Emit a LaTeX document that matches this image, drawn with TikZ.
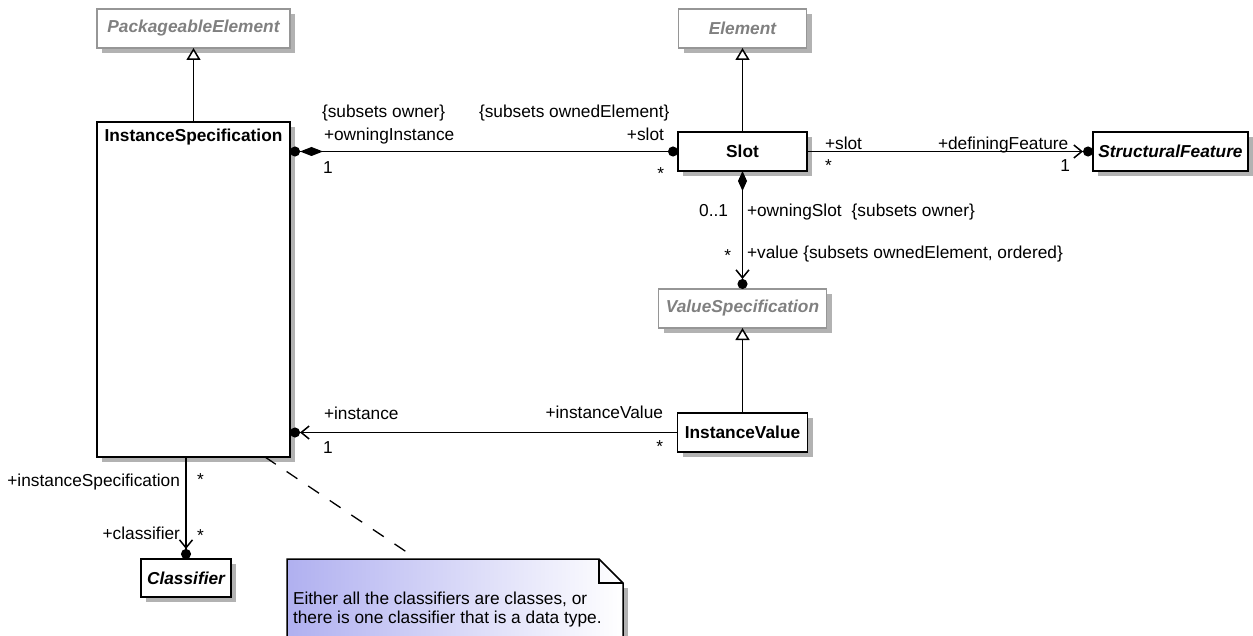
\documentclass[tikz,border=0pt]{standalone}
\usepackage{fontspec}
\setmainfont{Liberation Sans}
\usetikzlibrary{arrows.meta,shadows,calc}
\definecolor{absgray}{RGB}{128,128,128}
\definecolor{absborder}{RGB}{150,150,150}
\definecolor{shadowgray}{RGB}{178,178,178}
\definecolor{notelav}{RGB}{176,176,240}
\tikzset{
  every node/.style={font=\fontsize{17.3}{19}\selectfont, inner sep=0pt, outer sep=0pt},
  umlbox/.style={draw, line width=1.6pt, fill=white, rectangle,
    drop shadow={shadow xshift=5pt, shadow yshift=-5pt, fill=shadowgray, opacity=1}},
  concrete/.style={umlbox, font=\fontsize{17.3}{19}\selectfont\bfseries},
  abstractc/.style={umlbox, font=\fontsize{17.3}{19}\selectfont\bfseries\itshape},
  absgraybox/.style={umlbox, draw=absborder, text=absgray, font=\fontsize{17.3}{19}\selectfont\bfseries\itshape},
  conn/.style={line width=1.5pt},
  gen/.style={conn, -{Triangle[length=12pt,width=14pt,fill=white,line width=1.5pt]}},
  navdot/.style={conn, -{Straight Barb[length=8pt,width=13pt,line width=1.5pt,sep=0pt]Circle[length=10pt,width=10pt,sep=0pt]}},
  lbl/.style={font=\fontsize{17.3}{19}\selectfont},
}
\begin{document}
\begin{tikzpicture}[x=1pt,y=-1pt]
\useasboundingbox (0,0) rectangle (1253,636);
\clip (0,0) rectangle (1253,636);

% classes
\node[absgraybox, minimum width=193pt, minimum height=39pt] (PE) at (193.5,28.5) {PackageableElement};
\node[concrete, minimum width=193pt, minimum height=335pt] (IS) at (193.5,289.5) {};
\node[font=\fontsize{17.3}{19}\selectfont\bfseries] (IStitle) at (193.5,137) {InstanceSpecification};
\node[absgraybox, minimum width=128pt, minimum height=39pt] (Element) at (742.5,28.5) {Element};
\node[concrete, minimum width=129pt, minimum height=39pt] (Slot) at (742.5,151.5) {Slot};
\node[abstractc, minimum width=155pt, minimum height=39pt] (SF) at (1170.5,151.5) {StructuralFeature};
\node[absgraybox, minimum width=168pt, minimum height=39pt] (VS) at (742.5,308.5) {ValueSpecification};
\node[concrete, minimum width=130pt, minimum height=39pt] (IV) at (742.5,432.5) {InstanceValue};
\node[abstractc, minimum width=90pt, minimum height=38pt] (Cl) at (186,578) {Classifier};

% generalizations
\draw[gen] (IS.north) -- (PE.south);
\draw[gen] (Slot.north) -- (Element.south);
\draw[gen] (IV.north) -- (VS.south);

% associations
\draw[conn, {Circle[length=10pt,width=10pt,sep=0pt]Diamond[length=23pt,width=9pt,sep=0pt]}-{Circle[length=10pt,width=10pt]}]
  (IS.east |- Slot.west) -- (Slot.west);
\draw[navdot] (Slot.east) -- (SF.west);
\draw[navdot, {Diamond[length=20pt,width=9pt]}-{Straight Barb[length=8pt,width=13pt,line width=1.5pt,sep=0pt]Circle[length=10pt,width=10pt,sep=0pt]}] (Slot.south) -- (VS.north);
\draw[navdot] (IV.west) -- (IV.west -| IS.east);
\draw[navdot] (Cl.north |- IS.south) -- (Cl.north);

% labels IS-Slot
\node[lbl, anchor=base west] (l1) at (322,118) {\{subsets owner\}};
\node[lbl, anchor=base west] (l2) at (324,141) {+owningInstance};
\node[lbl, anchor=base west] (l3) at (323,174) {1};
\node[lbl, anchor=base west] (l4) at (479,118) {\{subsets ownedElement\}};
\node[lbl, anchor=base east] (l5) at (664,141) {+slot};
\node[lbl, anchor=base east] (l6) at (664,180) {*};
% labels Slot-SF
\node[lbl, anchor=base west] (l7) at (825,150) {+slot};
\node[lbl, anchor=base west] (l8) at (825,172) {*};
\node[lbl, anchor=base west] (l9) at (938,150) {+definingFeature};
\node[lbl, anchor=base east] (l10) at (1070,172) {1};
% labels Slot-VS
\node[lbl, anchor=base east] (l11) at (728,217) {0..1};
\node[lbl, anchor=base west] (l12) at (747,217) {+owningSlot\hspace{0.3em} \{subsets owner\}};
\node[lbl, anchor=base east] (l13) at (731,262) {*};
\node[lbl, anchor=base west] (l14) at (747,259) {+value \{subsets ownedElement, ordered\}};
% labels IV-IS
\node[lbl, anchor=base west] (l15) at (324,419) {+instance};
\node[lbl, anchor=base west] (l16) at (323,453) {1};
\node[lbl, anchor=base east] (l17) at (663,418) {+instanceValue};
\node[lbl, anchor=base east] (l18) at (663,452) {*};
% labels IS-Classifier
\node[lbl, anchor=base east] (l19) at (180,486) {+instanceSpecification};
\node[lbl, anchor=base west] (l20) at (197,485) {*};
\node[lbl, anchor=base east] (l21) at (180,539) {+classifier};
\node[lbl, anchor=base west] (l22) at (197,541) {*};

% note
\fill[shadowgray] (623,588) rectangle (628,660);
\shade[left color=notelav, right color=white] (287,559) -- (599,559) -- (623,583) -- (623,660) -- (287,660) -- cycle;
\draw[line width=1.5pt] (287,660) -- (287,559) -- (599,559) -- (623,583) -- (623,660);
\draw[line width=1.5pt] (599,559) -- (599,583) -- (623,583);
\node[lbl, anchor=base west, align=left] (note1) at (293,604) {Either all the classifiers are classes, or};
\node[lbl, anchor=base west, align=left] (note2) at (293,623) {there is one classifier that is a data type.};
\coordinate (dstart) at (265,457);
\coordinate (dend) at (414,557);
\draw[line width=1.3pt, dash pattern=on 13pt off 13pt] (dstart) -- (dend);
\end{tikzpicture}
\end{document}
